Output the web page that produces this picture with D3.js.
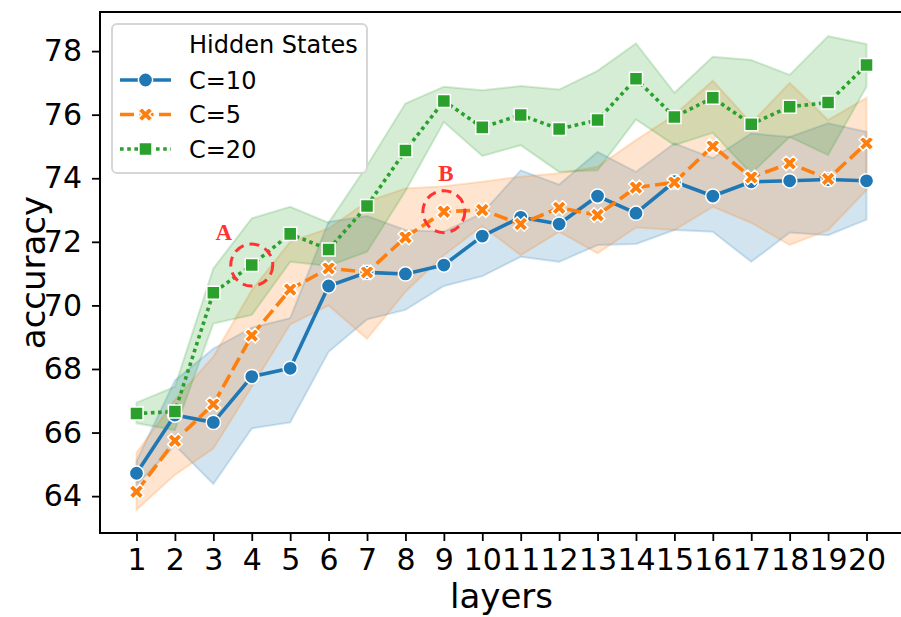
<!DOCTYPE html>
<html>
<head>
<meta charset="utf-8">
<script src="https://cdn.jsdelivr.net/npm/d3@7"></script>
<style>
  body { margin: 0; background: #fff; }
  svg { display: block; font-family: "DejaVu Sans", sans-serif; }
</style>
</head>
<body>
<div id="chart"></div>
<script>
// values
const layers = [1, 2, 3, 4, 5, 6, 7, 8, 9, 10, 11, 12, 13, 14, 15, 16, 17, 18, 19, 20];

const c10Mean = [64.72, 66.55, 66.32, 67.76, 68.02, 70.61, 71.04, 70.99, 71.27, 72.18, 72.77, 72.56, 73.44, 72.90, 73.89, 73.44, 73.89, 73.92, 73.96, 73.92];
const c10Lo   = [64.35, 65.60, 64.38, 66.13, 66.32, 68.54, 69.56, 69.86, 70.61, 70.92, 71.53, 71.37, 71.90, 71.93, 72.37, 72.32, 71.37, 72.29, 72.21, 72.70];
const c10Hi   = [65.10, 67.64, 68.64, 69.30, 69.60, 72.63, 72.81, 72.37, 72.32, 72.90, 74.25, 73.80, 74.83, 74.20, 75.10, 74.63, 75.41, 75.30, 75.73, 75.46];

const c5Mean = [64.14, 65.74, 66.89, 69.05, 70.50, 71.17, 71.04, 72.14, 72.95, 73.00, 72.56, 73.07, 72.84, 73.71, 73.87, 75.01, 74.03, 74.47, 73.98, 75.10];
const c5Lo   = [63.57, 64.67, 65.50, 67.44, 69.40, 70.00, 68.95, 70.43, 71.58, 72.50, 71.58, 72.32, 71.64, 72.45, 72.37, 73.10, 72.60, 71.90, 72.37, 73.63];
const c5Hi   = [65.36, 67.03, 68.39, 70.48, 72.00, 72.42, 73.26, 73.68, 73.75, 73.89, 74.05, 74.16, 74.36, 75.20, 75.99, 77.07, 75.73, 77.00, 75.83, 76.53];

const c20Mean = [66.60, 66.66, 70.40, 71.27, 72.25, 71.76, 73.13, 74.87, 76.43, 75.60, 75.99, 75.55, 75.83, 77.13, 75.93, 76.53, 75.70, 76.25, 76.38, 77.56];
const c20Lo   = [66.29, 66.08, 69.43, 69.70, 71.37, 71.24, 71.69, 73.60, 75.77, 74.70, 75.04, 74.20, 74.25, 75.85, 75.04, 75.43, 74.15, 75.30, 74.73, 76.88];
const c20Hi   = [66.94, 67.44, 71.16, 72.74, 73.10, 72.60, 74.40, 76.35, 76.88, 76.77, 76.90, 76.79, 77.38, 78.24, 76.69, 77.82, 77.72, 77.25, 78.47, 78.22];

const yTicks = [64, 66, 68, 70, 72, 74, 76, 78];
const legendTitle = "Hidden States";

const series = [
  { name: "C=10", mean: c10Mean, lo: c10Lo, hi: c10Hi, color: "#1f77b4", dash: null, marker: "circle" },
  { name: "C=5",  mean: c5Mean,  lo: c5Lo,  hi: c5Hi,  color: "#ff7f0e", dash: "14,5.5", marker: "x" },
  { name: "C=20", mean: c20Mean, lo: c20Lo, hi: c20Hi, color: "#2ca02c", dash: "3.6,3.6", marker: "square" }
];

const notes = [
  { label: "A", series: "C=20", layer: 4, dx: -28, dy: -33 },
  { label: "B", series: "C=5", layer: 9, dx: 2, dy: -39 }
];

const width = 901, height = 617;
const mLeft = 100, mRight = 903, mTop = 12, mBottom = 533;

const svg = d3.select("#chart").append("svg")
  .attr("width", width)
  .attr("height", height);

const x = d3.scaleLinear().domain([0.05, 20.95]).range([mLeft, mRight]);
const y = d3.scaleLinear().domain([62.84, 79.23]).range([mBottom, mTop]);

// marker shapes
function markerPath(kind) {
  if (kind === "circle") return d3.symbol(d3.symbolCircle, 160)();
  if (kind === "square") return d3.symbol(d3.symbolSquare, 170)();
  // filled "X" like matplotlib
  const a = 7.6, t = 2.7;
  const pts = [[-t, -a], [t, -a], [t, -t], [a, -t], [a, t], [t, t], [t, a], [-t, a], [-t, t], [-a, t], [-a, -t], [-t, -t]];
  const r = Math.SQRT1_2;
  return "M" + pts.map(p => [(p[0] - p[1]) * r, (p[0] + p[1]) * r].join(",")).join("L") + "Z";
}

// bands first, then lines on top
const area = d3.area()
  .x((d, i) => x(layers[i]))
  .y0(d => y(d[0]))
  .y1(d => y(d[1]));

series.forEach(s => {
  svg.append("path")
    .datum(s.lo.map((v, i) => [v, s.hi[i]]))
    .attr("d", area)
    .attr("fill", s.color)
    .attr("fill-opacity", 0.2)
    .attr("stroke", s.color)
    .attr("stroke-opacity", 0.2)
    .attr("stroke-width", 2);
});

const line = d3.line()
  .x((d, i) => x(layers[i]))
  .y(d => y(d));

series.forEach(s => {
  svg.append("path")
    .datum(s.mean)
    .attr("d", line)
    .attr("fill", "none")
    .attr("stroke", s.color)
    .attr("stroke-width", 3.6)
    .attr("stroke-dasharray", s.dash)
    .attr("stroke-linejoin", "round");

  svg.append("g").selectAll("path")
    .data(s.mean)
    .enter().append("path")
    .attr("transform", (d, i) => "translate(" + x(layers[i]) + "," + y(d) + ")")
    .attr("d", markerPath(s.marker))
    .attr("fill", s.color)
    .attr("stroke", "#fff")
    .attr("stroke-width", 1.5);
});

// annotations
notes.forEach(n => {
  const s = series.find(d => d.name === n.series);
  const i = layers.indexOf(n.layer);
  const px = x(n.layer), py = y(s.mean[i]);
  svg.append("circle")
    .attr("cx", px).attr("cy", py).attr("r", 21)
    .attr("fill", "none")
    .attr("stroke", "#ff3333")
    .attr("stroke-width", 3)
    .attr("stroke-dasharray", "10,6");
  svg.append("text")
    .attr("x", px + n.dx).attr("y", py + n.dy)
    .attr("text-anchor", "middle")
    .attr("dy", "0.35em")
    .style("font-family", "'Liberation Serif', serif")
    .style("font-weight", "bold")
    .style("font-size", "23px")
    .attr("fill", "#ff3333")
    .text(n.label);
});

// axes
const xAxis = svg.append("g")
  .attr("transform", "translate(0," + mBottom + ")")
  .call(d3.axisBottom(x).tickValues(layers).tickFormat(d3.format("d")).tickSize(8).tickPadding(8));
const yAxis = svg.append("g")
  .attr("transform", "translate(" + mLeft + ",0)")
  .call(d3.axisLeft(y).tickValues(yTicks).tickSize(8).tickPadding(10));

[xAxis, yAxis].forEach(g => {
  g.select(".domain").remove();
  g.selectAll(".tick line").attr("stroke", "#000").attr("stroke-width", 1.8);
  g.selectAll(".tick text").attr("fill", "#000")
    .style("font-family", "'DejaVu Sans', sans-serif")
    .style("font-size", "30px");
});

// spines
svg.append("rect")
  .attr("x", mLeft).attr("y", mTop)
  .attr("width", mRight - mLeft).attr("height", mBottom - mTop)
  .attr("fill", "none")
  .attr("stroke", "#000")
  .attr("stroke-width", 2);

svg.append("text")
  .attr("x", (mLeft + mRight) / 2).attr("y", 608)
  .attr("text-anchor", "middle")
  .style("font-size", "34px")
  .text("layers");

svg.append("text")
  .attr("transform", "translate(45," + (mTop + mBottom) / 2 + ") rotate(-90)")
  .attr("text-anchor", "middle")
  .style("font-size", "34px")
  .text("accuracy");

// legend
const lg = svg.append("g");
lg.append("rect")
  .attr("x", 112).attr("y", 24)
  .attr("width", 255).attr("height", 149)
  .attr("rx", 5)
  .attr("fill", "#fff").attr("fill-opacity", 0.8)
  .attr("stroke", "#d6d6d6").attr("stroke-width", 2);

lg.append("text")
  .attr("x", 189).attr("y", 44)
  .attr("dy", "0.36em")
  .style("font-size", "24px")
  .text(legendTitle);

series.forEach((s, k) => {
  const cy = 80 + k * 34.5;
  lg.append("line")
    .attr("x1", 120).attr("x2", 171)
    .attr("y1", cy).attr("y2", cy)
    .attr("stroke", s.color)
    .attr("stroke-width", 3.6)
    .attr("stroke-dasharray", s.dash);
  lg.append("path")
    .attr("transform", "translate(145.5," + cy + ")")
    .attr("d", markerPath(s.marker))
    .attr("fill", s.color)
    .attr("stroke", "#fff")
    .attr("stroke-width", 1.5);
  lg.append("text")
    .attr("x", 189).attr("y", cy)
    .attr("dy", "0.36em")
    .style("font-size", "24px")
    .text(s.name);
});
</script>
</body>
</html>
